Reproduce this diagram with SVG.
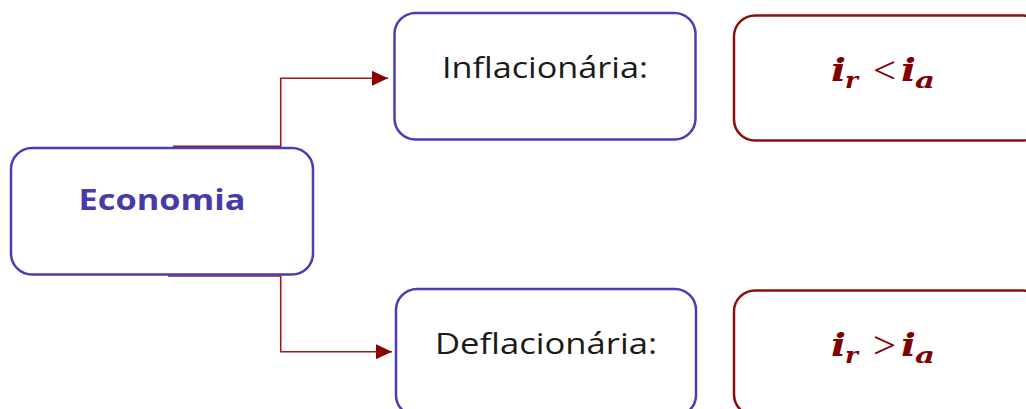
<svg xmlns="http://www.w3.org/2000/svg" width="1026" height="409" viewBox="0 0 1026 409">
<style>
.blue{fill:#fff;stroke:#4a3eb0;stroke-width:2.5}
.red{fill:#fff;stroke:#8a1010;stroke-width:2.5}
.lbl{font-family:"Open Sans","Liberation Sans",sans-serif;font-size:29px;fill:#1a1a1a}
.head{font-family:"Open Sans","Liberation Sans",sans-serif;font-size:29px;font-weight:bold;fill:#4a3aa8}
.m{font-family:"DejaVu Serif",serif;font-weight:bold;font-style:italic;fill:#800000}
.rel{font-family:"Liberation Serif",serif;fill:#800000;font-size:38px}
.conn{fill:none;stroke:#9a1a1a;stroke-width:1.6}
</style>
<defs>
<marker id="ah" markerWidth="16" markerHeight="15" refX="16" refY="7.5" orient="auto" markerUnits="userSpaceOnUse">
<path d="M0,0 L16,7.5 L0,15 Z" fill="#8b0000"/>
</marker>
</defs>
<g id="connectors">
<path class="conn" d="M173,146.3 H280.7 V78.3 H388" marker-end="url(#ah)"/>
<path class="conn" d="M168,276 H280.7 V351.7 H392" marker-end="url(#ah)"/>
</g>
<g id="economia">
<rect class="blue" x="11" y="148" width="302" height="126.5" rx="21"/>
<text class="head" x="162" y="210" text-anchor="middle" textLength="167" lengthAdjust="spacingAndGlyphs">Economia</text>
</g>
<g id="inflacionaria">
<rect class="blue" x="394.5" y="13" width="301" height="126.5" rx="21"/>
<text class="lbl" x="545" y="78" text-anchor="middle" textLength="206" lengthAdjust="spacingAndGlyphs">Inflacionária:</text>
</g>
<g id="deflacionaria">
<rect class="blue" x="396" y="289" width="300" height="127" rx="21"/>
<text class="lbl" x="546" y="354" text-anchor="middle" textLength="222" lengthAdjust="spacingAndGlyphs">Deflacionária:</text>
</g>
<g id="inflacao-rel">
<rect class="red" x="734" y="15.5" width="310" height="125" rx="21"/>
<text class="m" x="831" y="81" font-size="32" textLength="15" lengthAdjust="spacingAndGlyphs">i</text>
<text class="m" x="845" y="88" font-size="23" textLength="13" lengthAdjust="spacingAndGlyphs">r</text>
<text class="rel" x="873" y="83" textLength="23" lengthAdjust="spacingAndGlyphs">&lt;</text>
<text class="m" x="901" y="81" font-size="32" textLength="15" lengthAdjust="spacingAndGlyphs">i</text>
<text class="m" x="915" y="88" font-size="23" textLength="20" lengthAdjust="spacingAndGlyphs">a</text>
</g>
<g id="deflacao-rel">
<rect class="red" x="734" y="290.5" width="310" height="125" rx="21"/>
<text class="m" x="831" y="356" font-size="32" textLength="15" lengthAdjust="spacingAndGlyphs">i</text>
<text class="m" x="845" y="363" font-size="23" textLength="13" lengthAdjust="spacingAndGlyphs">r</text>
<text class="rel" x="873" y="358" textLength="23" lengthAdjust="spacingAndGlyphs">&gt;</text>
<text class="m" x="901" y="356" font-size="32" textLength="15" lengthAdjust="spacingAndGlyphs">i</text>
<text class="m" x="915" y="363" font-size="23" textLength="20" lengthAdjust="spacingAndGlyphs">a</text>
</g>
</svg>
